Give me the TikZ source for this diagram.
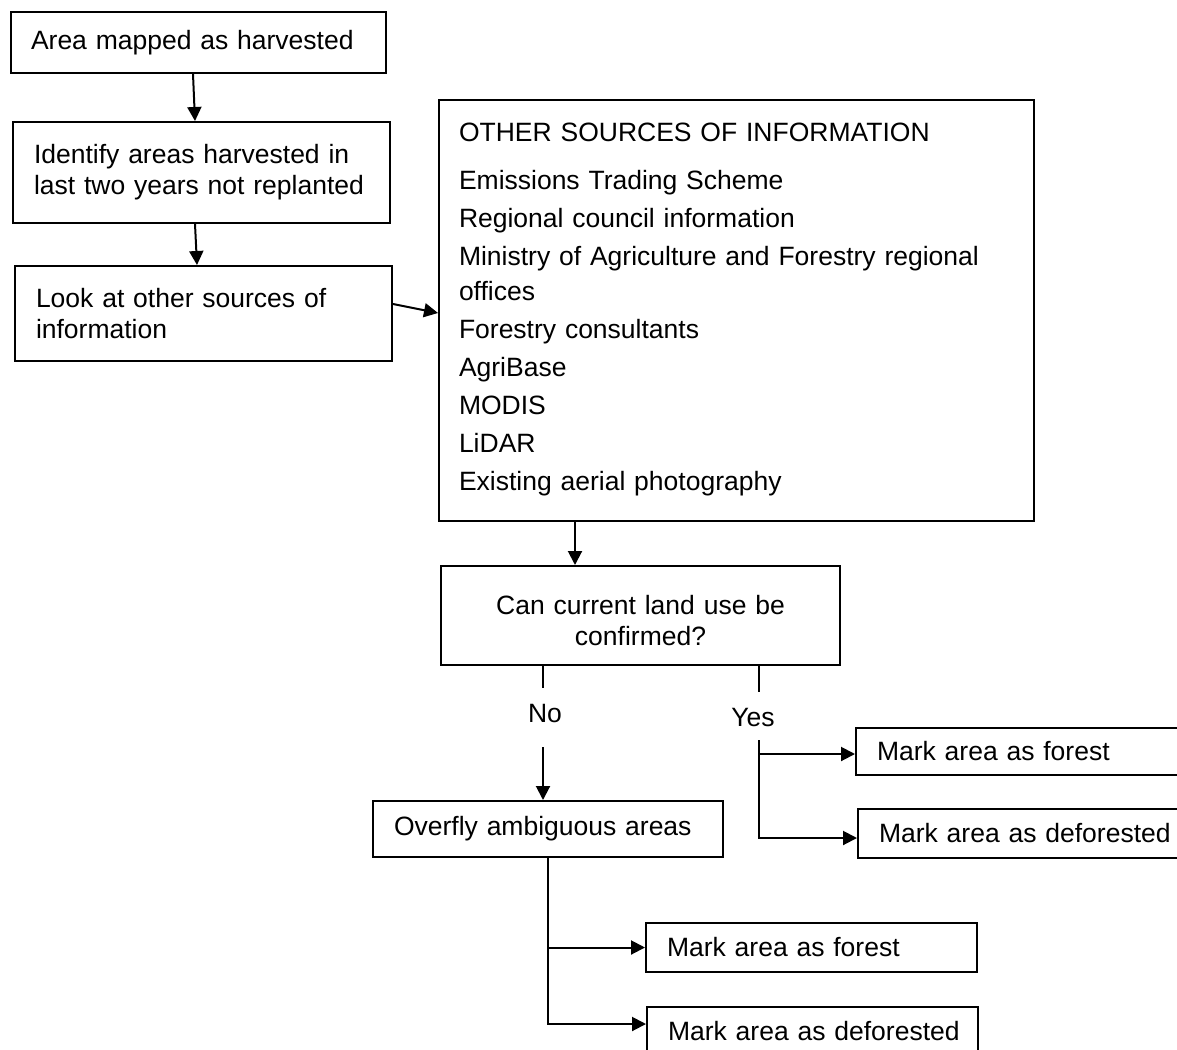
\documentclass[tikz,border=0pt]{standalone}
\usepackage{fontspec}
\setmainfont{Liberation Sans}
\usetikzlibrary{arrows.meta}
\begin{document}
\begin{tikzpicture}[x=1pt,y=-1pt,
  box/.style={draw, line width=2pt, anchor=north west, align=left, inner xsep=20pt, inner ysep=0pt, font=\fontsize{26.5}{31}\selectfont},
  lbl/.style={font=\fontsize{26.5}{31}\selectfont, inner sep=0pt},
  arr/.style={line width=2pt, -{Triangle[length=14pt,width=14pt]}},
  ln/.style={line width=2pt}]
\useasboundingbox (0,0) rectangle (1177,1049);
\clip (0,0) rectangle (1177,1049);

\node[box, text width=335pt, minimum height=61pt] (b1) at (10,11) {Area mapped as harvested};
\node[box, text width=335pt, minimum height=101pt, inner xsep=21pt] (b2) at (12,121) {Identify areas harvested in\\last two years not replanted};
\node[box, text width=335pt, minimum height=95pt, inner xsep=21pt] (b3) at (14,265) {Look at other sources of\\information};
\node[box, text width=555pt, minimum height=421pt, font=\fontsize{26.5}{35}\selectfont] (big) at (438,99) {OTHER SOURCES OF INFORMATION\\[13pt]
Emissions Trading Scheme\\[3pt]
Regional council information\\[3pt]
Ministry of Agriculture and Forestry regional\\
offices\\[3pt]
Forestry consultants\\[3pt]
AgriBase\\[3pt]
MODIS\\[3pt]
LiDAR\\[3pt]
Existing aerial photography\\[-28pt]\mbox{}};
\node[box, align=center, text width=359pt, minimum height=99pt] (dec) at (440,565) {\rule{0pt}{30pt}Can current land use be\\confirmed?};
\node[box, text width=308pt, minimum height=56pt, inner xsep=21pt] (ov) at (372,800) {Overfly ambiguous areas};
\node[box, text width=300pt, minimum height=47pt, inner xsep=21pt] (fr1) at (855,727) {Mark area as forest};
\node[box, text width=300pt, minimum height=49pt, inner xsep=21pt] (df1) at (857,808) {\mbox{Mark area as deforested}};
\node[box, text width=289pt, minimum height=49pt, inner xsep=21pt] (fr2) at (645,922) {Mark area as forest};
\node[box, text width=289pt, minimum height=49pt, inner xsep=21pt] (df2) at (646,1006) {\mbox{Mark area as deforested}};

% top chain
\draw[arr] ([xshift=183pt]b1.south west) -- ([xshift=183pt]b2.north west);
\draw[arr] ([xshift=183pt]b2.south west) -- ([xshift=183pt]b3.north west);
\draw[arr] ([yshift=9.5pt]b3.east) -- ([yshift=-214pt]big.north west);
\draw[arr] ([xshift=137pt]big.south west) -- ([xshift=135pt]dec.north west);

% No branch
\coordinate (noA) at (543,688);
\coordinate (noB) at (543,747);
\node[lbl] (no) at (545,714) {No};
\draw[ln] ([xshift=103pt]dec.south west) -- (noA);
\draw[arr] (noB) -- ([xshift=171pt]ov.north west);

% Yes branch
\coordinate (yesA) at (759,692);
\coordinate (yesB) at (759,740);
\node[lbl] (yes) at (753,718) {Yes};
\draw[ln] ([xshift=319pt]dec.south west) -- (yesA);
\draw[arr] (yesB) |- ([yshift=-2.5pt]fr1.west);
\draw[arr] (yesB) |- ([yshift=-4.5pt]df1.west);

% Overfly branch
\draw[arr] ([xshift=176pt]ov.south west) |- (fr2.west);
\draw[arr] ([xshift=176pt]ov.south west) |- ([yshift=7.5pt]df2.west);
\end{tikzpicture}
\end{document}
